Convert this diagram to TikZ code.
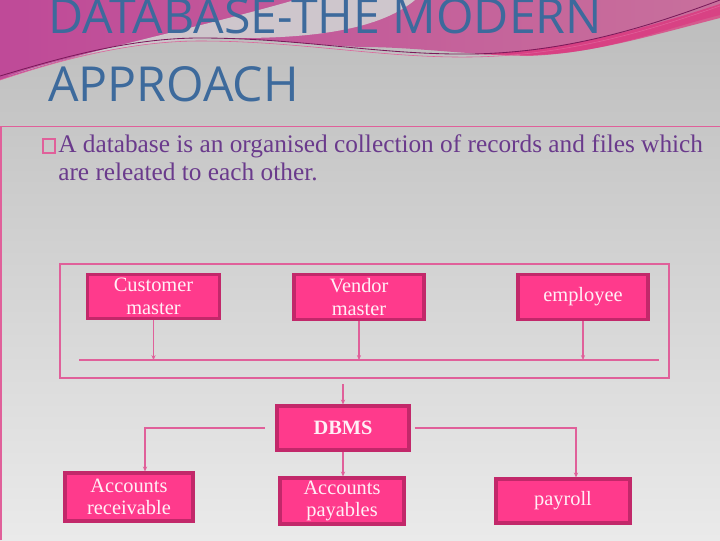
\documentclass[tikz,border=0pt]{standalone}
\usepackage{fontspec}
\setmainfont{Liberation Serif}
\newfontfamily\titlefont{Open Sans}
\usetikzlibrary{arrows.meta}

\definecolor{bgtop}{HTML}{BCBCBC}
\definecolor{bgbot}{HTML}{EAEAEA}
\definecolor{swooshl}{HTML}{BF4A98}
\definecolor{swooshr}{HTML}{C8709C}
\definecolor{bandgray}{HTML}{CEC6CC}
\definecolor{hotstripe}{HTML}{E0307A}
\definecolor{darkline}{HTML}{7A1A5A}
\definecolor{titleblue}{HTML}{3D6A9C}
\definecolor{bodypurple}{HTML}{6A3A8C}
\definecolor{framepink}{HTML}{E0609A}
\definecolor{boxpink}{HTML}{FF3A8C}
\definecolor{boxedge}{HTML}{C2286A}
\definecolor{boxtext}{HTML}{FFEFF6}

\begin{document}
\begin{tikzpicture}[x=0.025cm,y=-0.025cm,
  box/.style={rectangle,fill=boxpink,draw=boxedge,line width=2.2pt,
    text=boxtext,font=\fontsize{14.5}{16}\selectfont,align=center,inner sep=0pt},
  link/.style={draw=framepink,line width=0.9pt},
  arr/.style={link,-{Stealth[length=3.5pt,width=3pt]}}]
   \useasboundingbox (0,0) rectangle (720,540);
   % slide background
   \shade[top color=bgtop,bottom color=bgbot] (0,0) rectangle (720,540);
   \shade[left color=swooshl,right color=swooshr] (0,0) -- (720,0) -- (720,15)
     .. controls (660,30) and (600,55) .. (527,55)
     .. controls (460,55) and (420,47) .. (360,47)
     .. controls (300,44) and (250,37) .. (200,38)
     .. controls (130,40) and (60,60) .. (0,80) -- cycle;
   \fill[bandgray] (8,76) .. controls (90,50) and (190,30) .. (295,0) -- (415,0)
     .. controls (385,25) and (330,38) .. (240,38)
     .. controls (150,38) and (70,55) .. (8,76) -- cycle;
   \fill[hotstripe,opacity=0.7] (470,54) .. controls (560,52) and (640,30) .. (720,4)
     -- (720,18) .. controls (650,36) and (590,54) .. (527,56) -- cycle;
   \draw[darkline,line width=0.6pt] (0,76) .. controls (60,58) and (130,38) .. (200,38)
     .. controls (300,38) and (380,55) .. (470,54)
     .. controls (560,53) and (640,30) .. (720,0);
   \draw[framepink,line width=0.4pt] (0,80) .. controls (60,60) and (130,41) .. (200,41)
     .. controls (300,41) and (380,58) .. (470,57)
     .. controls (560,56) and (640,34) .. (720,6);
   % title and text
   \node[anchor=base west,inner sep=0pt,text=titleblue,
     font=\titlefont\fontsize{34.3}{40}\selectfont] (title1) at (48,33) {DATABASE-THE MODERN};
   \node[anchor=base west,inner sep=0pt,text=titleblue,
     font=\titlefont\fontsize{34.3}{40}\selectfont] (title2) at (48,101) {APPROACH};
   \draw[framepink,line width=1pt] (1,540) -- (1,126.5) -- (720,126.5);
   \node[draw=framepink,line width=1.2pt,minimum width=0.3cm,minimum height=0.34cm,
     inner sep=0pt] (mark) at (49,146) {};
   \node[anchor=base west,inner sep=0pt,text=bodypurple,font=\fontsize{18}{20}\selectfont]
     (line1) at (58,152) {A database is an organised collection of records and files which};
   \node[anchor=base west,inner sep=0pt,text=bodypurple,font=\fontsize{18}{20}\selectfont]
     (line2) at (58,180) {are releated to each other.};
   % master files
   \draw[framepink,line width=0.8pt] (60,264) rectangle (669,378);
   \node[box,minimum width=3.28cm,minimum height=1.12cm] (cust) at (153.5,296.5) {Customer\\master};
   \node[box,minimum width=3.25cm,minimum height=1.12cm] (vend) at (359,297) {Vendor\\master};
   \node[box,minimum width=3.25cm,minimum height=1.12cm] (empl) at (583,297) {employee};
   \coordinate (busl) at (79,360);
   \coordinate (busr) at (659,360);
   \draw[link] (busl) -- (busr);
   \draw[arr] (cust) -- (cust |- busl);
   \draw[arr] (vend) -- (vend |- busl);
   \draw[arr] (empl) -- (empl |- busl);
   % dbms and applications
   \node[box,minimum width=3.3cm,minimum height=1.1cm] (dbms) at (343,428) {\textbf{DBMS}};
   \node[box,minimum width=3.2cm,minimum height=1.2cm] (recv) at (129,497) {Accounts\\receivable};
   \node[box,minimum width=3.1cm,minimum height=1.15cm] (pays) at (342,501) {Accounts\\payables};
   \node[box,minimum width=3.35cm,minimum height=1.1cm] (payr) at (563,501) {payroll};
   \coordinate (feed) at (343,384);
   \coordinate (lturn) at (145,428);
   \coordinate (rturn) at (576,428);
   \draw[arr] (feed) -- (dbms.north);
   \draw[arr] (dbms.south) -- (dbms.south |- pays.north);
   \draw[arr] ([xshift=-0.27cm]dbms.west) -- (lturn) -- (lturn |- recv.north);
   \draw[arr] ([xshift=0.1cm]dbms.east) -- (rturn) -- (rturn |- payr.north);
\end{tikzpicture}
\end{document}
